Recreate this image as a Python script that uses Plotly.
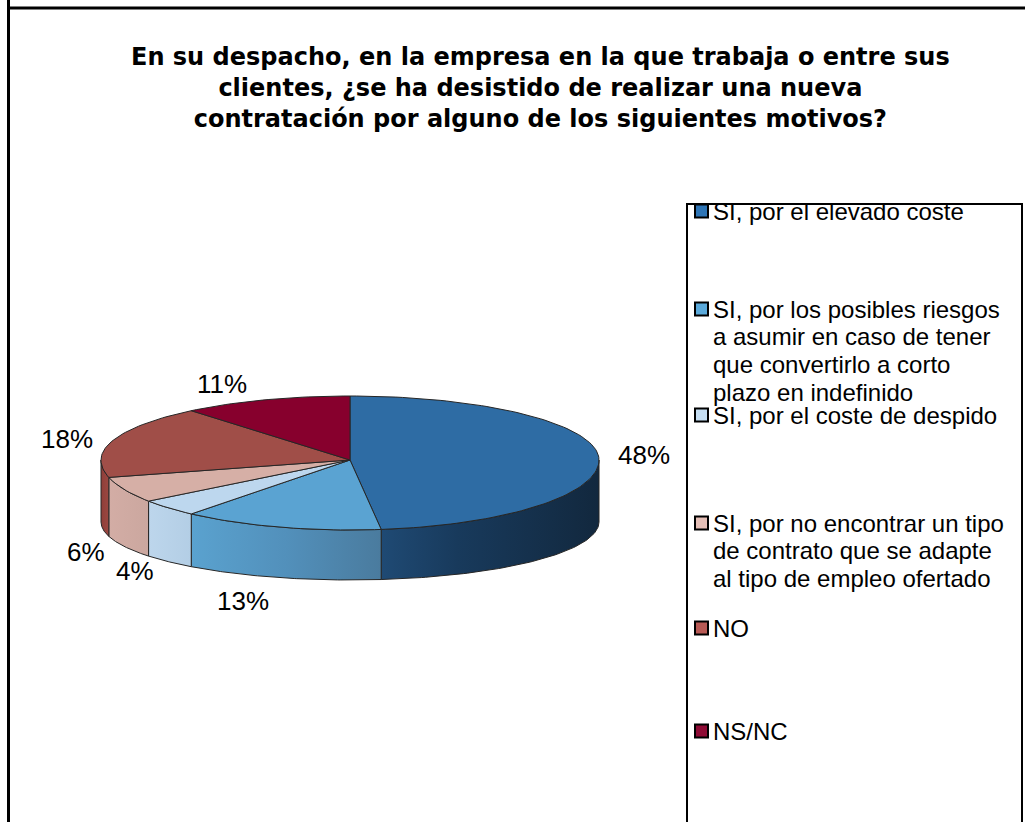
import numpy as np
import plotly.graph_objects as go

# ---------------- data ----------------
categories = [
    "SI, por el elevado coste",
    "SI, por los posibles riesgos a asumir en caso de tener que convertirlo a corto plazo en indefinido",
    "SI, por el coste de despido",
    "SI, por no encontrar un tipo de contrato que se adapte al tipo de empleo ofertado",
    "NO",
    "NS/NC",
]
values = [48, 13, 4, 6, 18, 11]
legend_lines = [
    ["SI, por el elevado coste"],
    ["SI, por los posibles riesgos", "a asumir en caso de tener", "que convertirlo a corto", "plazo en indefinido"],
    ["SI, por el coste de despido"],
    ["SI, por no encontrar un tipo", "de contrato que se adapte", "al tipo de empleo ofertado"],
    ["NO"],
    ["NS/NC"],
]
title_lines = [
    "En su despacho, en la empresa en la que trabaja o entre sus",
    "clientes, ¿se ha desistido de realizar una nueva",
    "contratación por alguno de los siguientes motivos?",
]

# ---------------- style ----------------
W, H = 1025, 822          # window size
top_colors = ["#2E6CA4", "#5AA3D2", "#BDD7EE", "#D6AFA6", "#A04E48", "#87002D"]
side_scales = [
    [[0, "#1F4A74"], [0.35, "#183A5C"], [1, "#12283E"]],
    [[0, "#5AA2CF"], [0.5, "#5290BB"], [1, "#4A7B9E"]],
    [[0, "#BDD6EC"], [1, "#B3CEE5"]],
    [[0, "#D3ADA5"], [1, "#CBA79F"]],
    [[0, "#8E3E39"], [1, "#9C4741"]],
    [[0, "#6E0024"], [1, "#6E0024"]],
]
legend_colors = ["#2E75B6", "#5BAADB", "#C5DEF3", "#E5BFB7", "#B85A55", "#8E0B35"]
edge_color = "#262626"

# pie geometry (screen pixels); slight perspective: front half deeper than back half
CX, CY, RX = 350, 460, 249
RY_BACK, RY_FRONT = 64, 70
DEPTH, RY_BOTTOM = 62, 58
# label ring
L_RX, L_RY, L_DEPTH = 295, 74, 60
label_nudge_x = [0, -25, 0, 3, -2, -28]
label_nudge_y = [0, 10, 0, 0, 2, -6]

label_font = dict(family="Liberation Sans, Arial, sans-serif", size=26, color="#000000")
legend_font = dict(family="Liberation Sans, Arial, sans-serif", size=24, color="#000000")
title_font = dict(family="DejaVu Sans, Verdana, sans-serif", size=24, color="#000000")

legend_left, legend_top, legend_right = 687, 204, 1022
legend_sq_x = 701.5
legend_text_x = 711
legend_item_y = [211, 309, 415, 523, 628, 731]
legend_line_gap = 27.7


def pt_top(theta):
    c = np.cos(theta)
    ry = np.where(c > 0, RY_BACK, RY_FRONT)
    return CX + RX * np.sin(theta), CY - ry * c


def pt_bot(theta):
    return CX + RX * np.sin(theta), CY + DEPTH - RY_BOTTOM * np.cos(theta)


fig = go.Figure()

fr = np.array(values, dtype=float) / sum(values)
cum = np.concatenate([[0.0], np.cumsum(fr)])
th0 = 2 * np.pi * cum[:-1]
th1 = 2 * np.pi * cum[1:]

# ----- side (front) faces -----
for i in range(len(values)):
    a = max(th0[i], np.pi / 2)
    b = min(th1[i], 3 * np.pi / 2)
    if b <= a:
        continue
    t = np.linspace(a, b, 80)
    xt, yt = pt_top(t)
    xb, yb = pt_bot(t[::-1])
    xs = np.concatenate([xt, xb, xt[:1]])
    ys = np.concatenate([yt, yb, yt[:1]])
    fig.add_trace(go.Scatter(
        x=xs, y=ys, mode="lines", fill="toself",
        fillgradient=dict(type="horizontal", colorscale=side_scales[i],
                          start=float(xs.min()), stop=float(xs.max())),
        line=dict(color=edge_color, width=1),
        hoverinfo="skip", showlegend=False,
    ))

# ----- top faces -----
for i in range(len(values)):
    n = max(8, int(240 * fr[i]))
    t = np.linspace(th0[i], th1[i], n)
    xa, ya = pt_top(t)
    xs = np.concatenate([[CX], xa, [CX]])
    ys = np.concatenate([[CY], ya, [CY]])
    fig.add_trace(go.Scatter(
        x=xs, y=ys, mode="lines", fill="toself", fillcolor=top_colors[i],
        line=dict(color=edge_color, width=1),
        name=categories[i], text=f"{values[i]}%",
        hoverinfo="name+text", showlegend=False,
    ))

annotations = []
# ----- percentage labels -----
for i, v in enumerate(values):
    tm = (th0[i] + th1[i]) / 2
    s, c = np.sin(tm), np.cos(tm)
    lx = CX + L_RX * s + label_nudge_x[i]
    ly = CY - L_RY * c + (L_DEPTH if c < 0 else 0) + label_nudge_y[i]
    annotations.append(dict(x=lx, y=ly, xref="x", yref="y", text=f"{v}%",
                            showarrow=False, xanchor="center", yanchor="middle",
                            font=label_font))

# ----- title -----
annotations.append(dict(x=540, y=88, xref="x", yref="y",
                        text="<b>" + "<br>".join(title_lines) + "</b>",
                        showarrow=False, xanchor="center", yanchor="middle",
                        align="center", font=title_font))

shapes = []
# outer chart border: only top and left edges fall inside the window
shapes.append(dict(type="line", xref="x", yref="y", x0=8.5, y0=0, x1=8.5, y1=H,
                   line=dict(color="#000000", width=3)))
shapes.append(dict(type="line", xref="x", yref="y", x0=7, y0=8.0, x1=W, y1=8.0,
                   line=dict(color="#000000", width=3)))
# legend box: top, left, right edges (bottom is outside the window)
shapes.append(dict(type="line", xref="x", yref="y", x0=legend_left, y0=legend_top,
                   x1=legend_right, y1=legend_top, line=dict(color="#000000", width=2)))
shapes.append(dict(type="line", xref="x", yref="y", x0=legend_left, y0=legend_top - 1,
                   x1=legend_left, y1=H, line=dict(color="#000000", width=2)))
shapes.append(dict(type="line", xref="x", yref="y", x0=legend_right, y0=legend_top - 1,
                   x1=legend_right, y1=H, line=dict(color="#000000", width=2)))
for i, lines in enumerate(legend_lines):
    yc = legend_item_y[i]
    shapes.append(dict(type="rect", xref="x", yref="y",
                       x0=legend_sq_x - 6.5, x1=legend_sq_x + 6.5, y0=yc - 6.5, y1=yc + 6.5,
                       fillcolor=legend_colors[i], line=dict(color="#000000", width=2)))
    for k, line in enumerate(lines):
        annotations.append(dict(x=legend_text_x, y=yc + k * legend_line_gap,
                                xref="x", yref="y", text=line, showarrow=False,
                                xanchor="left", yanchor="middle", font=legend_font))

fig.update_layout(
    width=W, height=H, autosize=False,
    margin=dict(l=0, r=0, t=0, b=0, pad=0),
    paper_bgcolor="#FFFFFF", plot_bgcolor="#FFFFFF",
    xaxis=dict(range=[0, W], visible=False, fixedrange=True),
    yaxis=dict(range=[H, 0], visible=False, fixedrange=True),
    annotations=annotations, shapes=shapes,
    showlegend=False,
)

# remove the default page margin so the figure fills the window exactly
fig.write_html(
    "out.html",
    config={"displayModeBar": False},
    post_script="document.body.style.margin='0';document.documentElement.style.overflow='hidden';",
)
